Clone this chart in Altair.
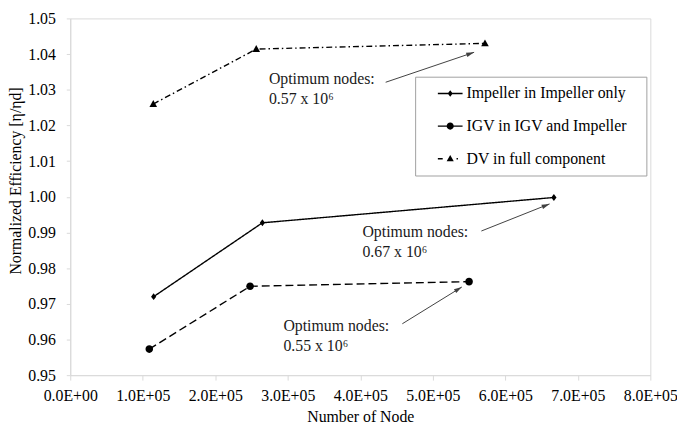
import altair as alt
import pandas as pd

FONT = "Liberation Serif"

series = ["Impeller in Impeller only", "IGV in IGV and Impeller", "DV in full component"]

imp_x = [1.15e5, 2.65e5, 6.67e5]
imp_y = [0.9720, 0.9927, 0.9998]
igv_x = [1.09e5, 2.48e5, 5.50e5]
igv_y = [0.9573, 0.9749, 0.9762]
dv_x = [1.145e5, 2.565e5, 5.72e5]
dv_y = [1.0260, 1.0414, 1.0430]

x_ticks = [0, 1e5, 2e5, 3e5, 4e5, 5e5, 6e5, 7e5, 8e5]
y_ticks = [0.95, 0.96, 0.97, 0.98, 0.99, 1.00, 1.01, 1.02, 1.03, 1.04, 1.05]

note_line1 = ["Optimum nodes:", "Optimum nodes:", "Optimum nodes:"]
note_line2 = ["0.57 x 10\u2076", "0.67 x 10\u2076", "0.55 x 10\u2076"]
note_x = [2.74e5, 4.03e5, 2.94e5]
note_y1 = [1.0331, 0.9902, 0.9638]
note_y2 = [1.0274, 0.9844, 0.9581]

arrow_x = [4.35e5, 5.67e5, 4.58e5]
arrow_y = [1.0321, 0.9904, 0.9644]
arrow_x2 = [5.57e5, 6.61e5, 5.40e5]
arrow_y2 = [1.0405, 0.9980, 0.9747]
arrow_angle = [71, 68, 58]

rows = []
for name, xs, ys in zip(series, [imp_x, igv_x, dv_x], [imp_y, igv_y, dv_y]):
    for xv, yv in zip(xs, ys):
        rows.append({"series": name, "nodes": xv, "eff": yv})
df = pd.DataFrame(rows)

notes = pd.DataFrame(
    [{"nodes": x, "eff": y, "t": t} for x, y, t in zip(note_x, note_y1, note_line1)]
    + [{"nodes": x, "eff": y, "t": t} for x, y, t in zip(note_x, note_y2, note_line2)]
)
arrows = pd.DataFrame({"nodes": arrow_x, "eff": arrow_y, "x2": arrow_x2, "y2": arrow_y2, "angle": arrow_angle})

xscale = alt.Scale(domain=[0, 8e5], nice=False, zero=False)
yscale = alt.Scale(domain=[0.95, 1.05], nice=False, zero=False)

x_axis = alt.Axis(
    values=x_ticks,
    labelExpr="datum.value == 0 ? '0.0E+00' : format(datum.value / 100000, '.1f') + 'E+05'",
    grid=False, tickSize=5, labelPadding=8, titlePadding=5, labelOverlap=False,
    labelFont=FONT, titleFont=FONT, labelFlush=False, labelFontSize=16, titleFontSize=16,
)
y_axis = alt.Axis(
    values=y_ticks, format=".2f", grid=False, tickSize=4, labelPadding=11,
    labelOverlap=False, labelFont=FONT, titleFont=FONT,
    labelFlush=False, labelFontSize=16, titleFontSize=16, titleY=164, titleX=-47,
)

def X(field="nodes:Q"):
    return alt.X(field, scale=xscale, title="Number of Node", axis=x_axis)

def Y(field="eff:Q"):
    return alt.Y(field, scale=yscale, title="Normalized Efficiency [\u03b7/\u03b7d]", axis=y_axis)

dash_scale = alt.Scale(domain=series, range=[[1, 0], [8, 4], [6, 3, 1.5, 3]])

lines = alt.Chart(df).mark_line(color="black", strokeWidth=1.4).encode(
    x=X(), y=Y(),
    strokeDash=alt.StrokeDash("series:N", scale=dash_scale, legend=None),
    detail="series:N",
)

diamond = "M0,-1L0.75,0L0,1L-0.75,0Z"
circle = "M-1.1,0A1.1,1.1,0,1,1,1.1,0A1.1,1.1,0,1,1,-1.1,0Z"
triangle = "M0,-1.15L1.1,0.85L-1.1,0.85Z"

points = alt.Chart(df).mark_point(filled=True, color="black", opacity=1, size=49).encode(
    x=X(), y=Y(),
    shape=alt.Shape("series:N", scale=alt.Scale(domain=series, range=[diamond, circle, triangle]), legend=None),
)

# legend symbols: line segment drawn as thin filled bars + marker (unit = 8 px)
bar = "M-1.5625,-0.09H1.5625V0.09H-1.5625Z"
leg_paths = [
    bar + "M0,-0.42L0.32,0L0,0.42L-0.32,0Z",
    bar + "M-0.45,0A0.45,0.45,0,1,1,0.45,0A0.45,0.45,0,1,1,-0.45,0Z",
    "M-1.5625,-0.09H-0.95V0.09H-1.5625Z" + "M0.8,-0.09H0.98V0.09H0.8Z"
    + "M0,-0.48L0.45,0.32L-0.45,0.32Z",
]

legend_layer = alt.Chart(df).mark_point(filled=True, opacity=0, color="black", size=1).encode(
    x=X(), y=Y(),
    shape=alt.Shape(
        "series:N",
        scale=alt.Scale(domain=series, range=leg_paths),
        legend=alt.Legend(
            title="x", titleOrient="right", titleOpacity=0, titleFont=FONT,
            titleFontSize=16, titlePadding=2,
            orient="none", legendX=349, legendY=59,
            padding=9, strokeColor="#a0a0a0", fillColor="white",
            symbolSize=256, symbolStrokeWidth=0, symbolFillColor="black",
            symbolStrokeColor="black", symbolOpacity=1, symbolOffset=18.5,
            labelOffset=8.5, labelFont=FONT, labelFontSize=16, labelColor="black",
            rowPadding=17, labelLimit=0,
        ),
    ),
)

arrow_lines = alt.Chart(arrows).mark_rule(color="#404040", strokeWidth=1).encode(
    x=X(), y=Y(), x2="x2:Q", y2="y2:Q"
)
head = "M0,0L0.45,1.6L-0.45,1.6Z"
arrow_heads = alt.Chart(arrows).mark_point(filled=True, color="#404040", opacity=1, size=100, shape=head).encode(
    x=X("x2:Q"), y=Y("y2:Q"), angle=alt.Angle("angle:Q", scale=None)
)

texts = alt.Chart(notes).mark_text(
    align="left", baseline="middle", font=FONT, fontSize=16, color="#1a1a1a"
).encode(x=X(), y=Y(), text="t:N")

chart = alt.layer(lines, points, legend_layer, arrow_lines, arrow_heads, texts).resolve_scale(
    shape="independent"
).properties(
    width=587, height=361,
    padding={"left": 63, "top": 8, "right": 27, "bottom": 53},
    autosize=alt.AutoSizeParams(type="none"),
).configure(
    font=FONT,
    style={"guide-label": {"font": FONT, "fontSize": 16}, "guide-title": {"font": FONT, "fontSize": 16}},
).configure_view(stroke="#d9d9d9", strokeWidth=1).configure_axis(
    domainColor="#d9d9d9", tickColor="#d9d9d9", labelFont=FONT, titleFont=FONT,
    labelFontSize=16, titleFontSize=16, labelColor="black", titleColor="black",
    titleFontWeight="normal", labelOverlap=False,
)

chart.save("out.html", embed_options={"renderer": "svg", "actions": False})
